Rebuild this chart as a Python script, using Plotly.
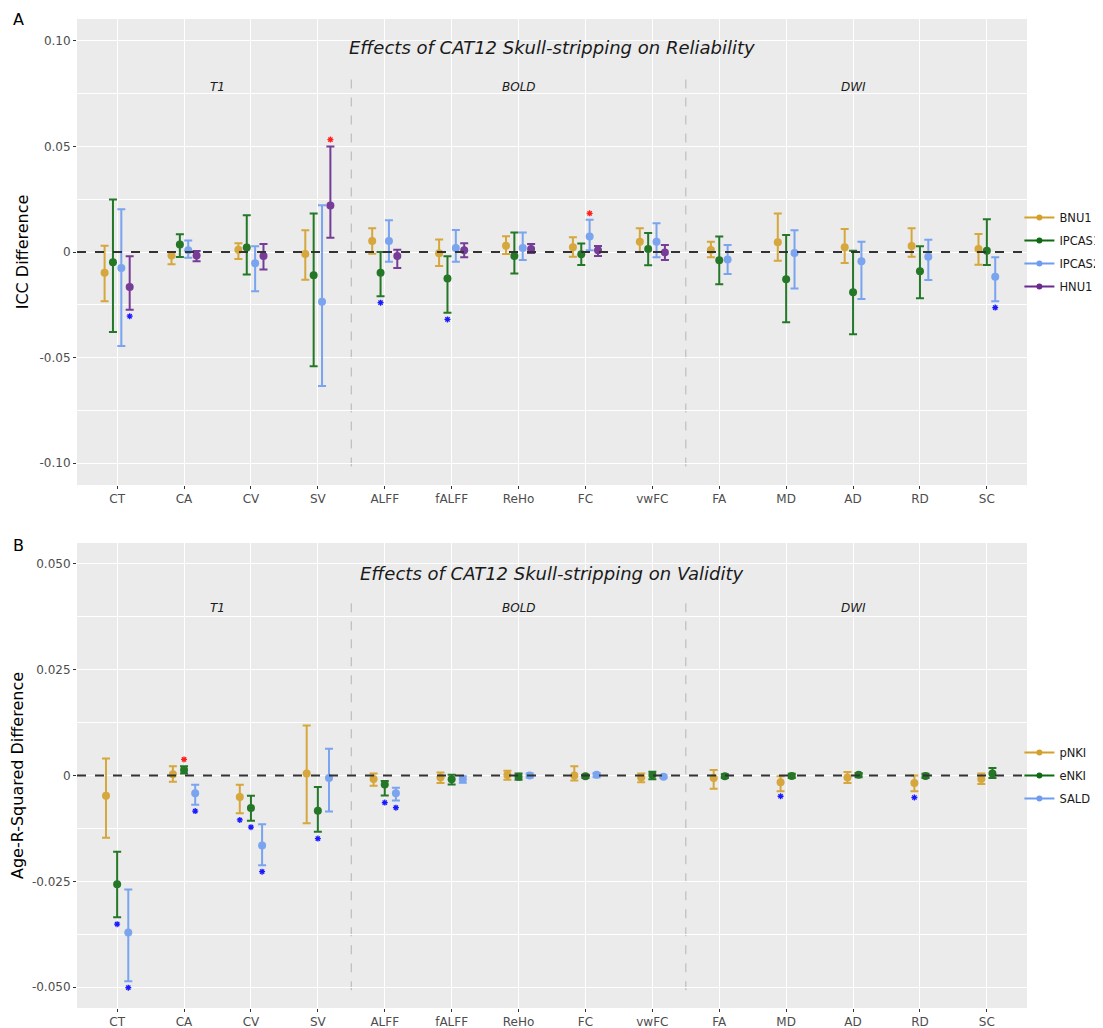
import plotly.graph_objects as go
from plotly.subplots import make_subplots

categories = ["CT", "CA", "CV", "SV", "ALFF", "fALFF", "ReHo", "FC", "vwFC",
              "FA", "MD", "AD", "RD", "SC"]

# ---------------- Panel A: reliability (ICC difference) ----------------
bnu1_val = [-0.0098, -0.0016, 0.0011, -0.0009, 0.0052, -0.0006, 0.0030, 0.0022, 0.0049, 0.0009, 0.0046, 0.0022, 0.0028, 0.0014]
bnu1_lo = [-0.0233, -0.0058, -0.0033, -0.0131, -0.0008, -0.0066, -0.0009, -0.0022, 0.0000, -0.0025, -0.0041, -0.0052, -0.0022, -0.0060]
bnu1_hi = [0.0030, 0.0000, 0.0041, 0.0103, 0.0112, 0.0059, 0.0074, 0.0070, 0.0112, 0.0049, 0.0182, 0.0109, 0.0113, 0.0085]

ipcas1_val = [-0.0049, 0.0036, 0.0021, -0.0110, -0.0098, -0.0126, -0.0019, -0.0011, 0.0014, -0.0039, -0.0129, -0.0191, -0.0091, 0.0006]
ipcas1_lo = [-0.0379, -0.0024, -0.0106, -0.0541, -0.0210, -0.0287, -0.0102, -0.0061, -0.0063, -0.0153, -0.0333, -0.0389, -0.0219, -0.0061]
ipcas1_hi = [0.0248, 0.0084, 0.0174, 0.0182, 0.0000, -0.0020, 0.0092, 0.0040, 0.0090, 0.0073, 0.0081, 0.0006, 0.0027, 0.0155]

ipcas2_val = [-0.0076, 0.0008, -0.0053, -0.0235, 0.0052, 0.0019, 0.0019, 0.0073, 0.0049, -0.0036, -0.0005, -0.0044, -0.0022, -0.0117]
ipcas2_lo = [-0.0445, -0.0027, -0.0186, -0.0634, -0.0046, -0.0046, -0.0038, 0.0008, -0.0025, -0.0104, -0.0173, -0.0222, -0.0132, -0.0233]
ipcas2_hi = [0.0202, 0.0055, 0.0027, 0.0221, 0.0150, 0.0104, 0.0092, 0.0153, 0.0136, 0.0033, 0.0103, 0.0049, 0.0058, -0.0025]

hnu1_val = [-0.0166, -0.0017, -0.0019, 0.0220, -0.0019, 0.0008, 0.0014, 0.0008, -0.0002, None, None, None, None, None]
hnu1_lo = [-0.0273, -0.0044, -0.0083, 0.0068, -0.0076, -0.0025, -0.0005, -0.0019, -0.0038, None, None, None, None, None]
hnu1_hi = [-0.0020, 0.0005, 0.0038, 0.0499, 0.0011, 0.0041, 0.0038, 0.0028, 0.0033, None, None, None, None, None]

# significance marks A: (series, category, y, direction)
stars_a_series = ["HNU1", "HNU1", "IPCAS1", "IPCAS1", "IPCAS2", "IPCAS2"]
stars_a_cat = ["CT", "SV", "ALFF", "fALFF", "FC", "SC"]
stars_a_y = [-0.0304, 0.0532, -0.0240, -0.0319, 0.0183, -0.0263]
stars_a_dir = ["down", "up", "down", "down", "up", "down"]

# ---------------- Panel B: validity (age R-squared difference) ----------------
pnki_val = [-0.0048, 0.0003, -0.0051, 0.0005, -0.0008, -0.0005, 0.0001, 0.0000, -0.0005, -0.0006, -0.0016, -0.0005, -0.0018, -0.0008]
pnki_lo = [-0.0147, -0.0015, -0.0089, -0.0113, -0.0024, -0.0018, -0.0010, -0.0012, -0.0016, -0.0031, -0.0037, -0.0018, -0.0037, -0.0020]
pnki_hi = [0.0040, 0.0022, -0.0022, 0.0118, 0.0005, 0.0007, 0.0011, 0.0022, 0.0005, 0.0013, -0.0002, 0.0008, 0.0000, 0.0005]

enki_val = [-0.0257, 0.0013, -0.0077, -0.0083, -0.0021, -0.0009, -0.0003, -0.0002, 0.0001, -0.0002, -0.0001, 0.0002, -0.0001, 0.0005]
enki_lo = [-0.0335, 0.0005, -0.0107, -0.0133, -0.0047, -0.0021, -0.0010, -0.0006, -0.0009, -0.0006, -0.0006, -0.0004, -0.0006, -0.0006]
enki_hi = [-0.0180, 0.0022, -0.0048, -0.0027, -0.0013, 0.0002, 0.0005, 0.0002, 0.0009, 0.0003, 0.0004, 0.0006, 0.0004, 0.0018]

sald_val = [-0.0371, -0.0042, -0.0165, -0.0006, -0.0042, -0.0009, 0.0000, 0.0002, -0.0003, None, None, None, None, None]
sald_lo = [-0.0486, -0.0069, -0.0212, -0.0085, -0.0059, -0.0017, -0.0005, -0.0004, -0.0006, None, None, None, None, None]
sald_hi = [-0.0269, -0.0022, -0.0115, 0.0063, -0.0029, -0.0002, 0.0005, 0.0006, 0.0000, None, None, None, None, None]

stars_b_series = ["eNKI", "SALD", "eNKI", "SALD", "pNKI", "eNKI", "SALD", "eNKI", "eNKI", "SALD", "pNKI", "pNKI"]
stars_b_cat = ["CT", "CT", "CA", "CA", "CV", "CV", "CV", "SV", "ALFF", "ALFF", "MD", "RD"]
stars_b_y = [-0.0351, -0.0501, 0.0038, -0.0084, -0.0105, -0.0122, -0.0227, -0.0149, -0.0064, -0.0076, -0.0049, -0.0052]
stars_b_dir = ["down", "down", "up", "down", "down", "down", "down", "down", "down", "down", "down", "down"]

modalities = ["T1", "BOLD", "DWI"]
modality_centers = [2.5, 7.0, 12.0]
modality_breaks = [4.5, 9.5]

# ---------------- styling ----------------
FONT = "DejaVu Sans"
BG = "#EBEBEB"
COL = {
    "BNU1": "#D4A02A", "IPCAS1": "#0F6B12", "IPCAS2": "#6E9DF0", "HNU1": "#6A2A8E",
    "pNKI": "#D4A02A", "eNKI": "#0F6B12", "SALD": "#6E9DF0",
}
STAR_COL = {"up": "#FF2020", "down": "#1A1AFF"}

# page body has an 8px margin, so the figure is 8px smaller than the window
OFF = 8
W, H = 1103 - OFF, 1028 - OFF
ML, MR, MT, MB = 77 - OFF, 76, 19 - OFF, 20
plot_h = H - MT - MB
plot_w = W - ML - MR


def py2paper(py):
    """screen pixel row -> paper fraction"""
    return (H - MB - (py - OFF)) / plot_h


top_dom = [py2paper(485), 1.0]
bot_dom = [0.0, py2paper(543)]

fig = make_subplots(rows=2, cols=1)
fig.update_layout(yaxis=dict(domain=top_dom), yaxis2=dict(domain=bot_dom))

panels = [
    dict(row=1, legend="legend", spacing=0.125,
         series=[("BNU1", bnu1_val, bnu1_lo, bnu1_hi), ("IPCAS1", ipcas1_val, ipcas1_lo, ipcas1_hi),
                 ("IPCAS2", ipcas2_val, ipcas2_lo, ipcas2_hi), ("HNU1", hnu1_val, hnu1_lo, hnu1_hi)],
         stars=(stars_a_series, stars_a_cat, stars_a_y, stars_a_dir)),
    dict(row=2, legend="legend2", spacing=0.1667,
         series=[("pNKI", pnki_val, pnki_lo, pnki_hi), ("eNKI", enki_val, enki_lo, enki_hi),
                 ("SALD", sald_val, sald_lo, sald_hi)],
         stars=(stars_b_series, stars_b_cat, stars_b_y, stars_b_dir)),
]

for p in panels:
    names = [s[0] for s in p["series"]]
    pos = {n: [None] * len(categories) for n in names}
    for ci in range(len(categories)):
        present = [s[0] for s in p["series"] if s[1][ci] is not None]
        k = len(present)
        for j, n in enumerate(present):
            pos[n][ci] = ci + 1 + (j - (k - 1) / 2) * p["spacing"]
    for name, val, lo, hi in p["series"]:
        xs, ys, ep, em = [], [], [], []
        for ci in range(len(categories)):
            if val[ci] is None:
                continue
            xs.append(pos[name][ci]); ys.append(val[ci])
            ep.append(hi[ci] - val[ci]); em.append(val[ci] - lo[ci])
        fig.add_trace(go.Scatter(
            x=xs, y=ys, mode="markers", showlegend=False, opacity=0.9,
            marker=dict(color=COL[name], size=8),
            error_y=dict(type="data", array=ep, arrayminus=em, color=COL[name],
                         thickness=2, width=4),
        ), row=p["row"], col=1)
        fig.add_trace(go.Scatter(
            x=[None], y=[None], mode="lines+markers", name=name, legend=p["legend"],
            legendgroup=name,
            line=dict(color=COL[name], width=2), marker=dict(color=COL[name], size=6),
        ), row=p["row"], col=1)
    sser, scat, sy, sdir = p["stars"]
    for d in ("up", "down"):
        xs = [pos[s][categories.index(c)] for s, c, dd in zip(sser, scat, sdir) if dd == d]
        ys = [y for y, dd in zip(sy, sdir) if dd == d]
        if xs:
            fig.add_trace(go.Scatter(
                x=xs, y=ys, mode="markers", showlegend=False,
                marker=dict(symbol="asterisk-open", size=5, color=STAR_COL[d],
                            line=dict(color=STAR_COL[d], width=1.3)),
            ), row=p["row"], col=1)

axis_common = dict(showline=False, zeroline=False, ticks="outside", ticklen=3,
                   tickcolor="#333333", tickfont=dict(family=FONT, size=12, color="#4D4D4D"),
                   gridcolor="white", gridwidth=1.3)
for r in (1, 2):
    fig.update_xaxes(range=[0.4, 14.6], tickvals=list(range(1, 15)), ticktext=categories,
                     showgrid=True, row=r, col=1, **axis_common)

fig.update_yaxes(range=[-0.1103, 0.1103], tickvals=[-0.1, -0.05, 0, 0.05, 0.1],
                 ticktext=["-0.10", "-0.05", "0", "0.05", "0.10"],
                 minor=dict(tickvals=[-0.075, -0.025, 0.025, 0.075], showgrid=True,
                            gridcolor="white", gridwidth=0.6, ticks=""),
                 title=dict(text="ICC Difference", font=dict(family=FONT, size=16, color="black"), standoff=6),
                 row=1, col=1, **axis_common)
fig.update_yaxes(range=[-0.0549, 0.0549], tickvals=[-0.05, -0.025, 0, 0.025, 0.05],
                 ticktext=["-0.050", "-0.025", "0", "0.025", "0.050"],
                 minor=dict(tickvals=[-0.0375, -0.0125, 0.0125, 0.0375], showgrid=True,
                            gridcolor="white", gridwidth=0.6, ticks=""),
                 title=dict(text="Age-R-Squared Difference", font=dict(family=FONT, size=16, color="black"), standoff=6),
                 row=2, col=1, **axis_common)

shapes = []
annotations = []
panel_cfg = [
    ("x", "y", "Effects of CAT12 Skull-stripping on Reliability", (-0.1016, 0.085), 0.938, 0.854),
    ("x2", "y2", "Effects of CAT12 Skull-stripping on Validity", (-0.0507, 0.0421), 0.935, 0.860),
]
for xr, yr, title, (yb0, yb1), ty, gy in panel_cfg:
    shapes.append(dict(type="line", xref=xr + " domain", yref=yr, x0=0, x1=1, y0=0, y1=0,
                       line=dict(color="#333333", width=2, dash="dash"), layer="above"))
    for b in modality_breaks:
        shapes.append(dict(type="line", xref=xr, yref=yr, x0=b, x1=b, y0=yb0, y1=yb1,
                           line=dict(color="#BDBDBD", width=1.2, dash="dash"), layer="below"))
    annotations.append(dict(text="<i>" + title + "</i>", xref=xr + " domain", yref=yr + " domain",
                            x=0.5, y=ty, showarrow=False,
                            font=dict(family=FONT, size=18, color="#1A1A1A"),
                            xanchor="center", yanchor="middle"))
    for m, c in zip(modalities, modality_centers):
        annotations.append(dict(text="<i>" + m + "</i>", xref=xr, yref=yr + " domain", x=c, y=gy,
                                showarrow=False, font=dict(family=FONT, size=12, color="#1A1A1A"),
                                xanchor="center", yanchor="middle"))

for letter, py in (("A", 20), ("B", 545)):
    annotations.append(dict(text=letter, xref="paper", yref="paper",
                            x=(18 - OFF - ML) / plot_w, y=py2paper(py), showarrow=False,
                            font=dict(family=FONT, size=16, color="black"),
                            xanchor="center", yanchor="middle"))

legend_common = dict(x=0.992, xanchor="left", yanchor="middle",
                     font=dict(family=FONT, size=11.5, color="#1A1A1A"), bgcolor="rgba(0,0,0,0)",
                     itemwidth=30, tracegroupgap=4, traceorder="grouped")
fig.update_layout(
    width=W, height=H, margin=dict(l=ML, r=MR, t=MT, b=MB, autoexpand=False),
    paper_bgcolor="white", plot_bgcolor=BG,
    font=dict(family=FONT, size=12, color="#1A1A1A"),
    shapes=shapes, annotations=annotations,
    legend=dict(y=sum(top_dom) / 2, **legend_common),
    legend2=dict(y=sum(bot_dom) / 2, **legend_common),
)

fig.write_html("out.html")
